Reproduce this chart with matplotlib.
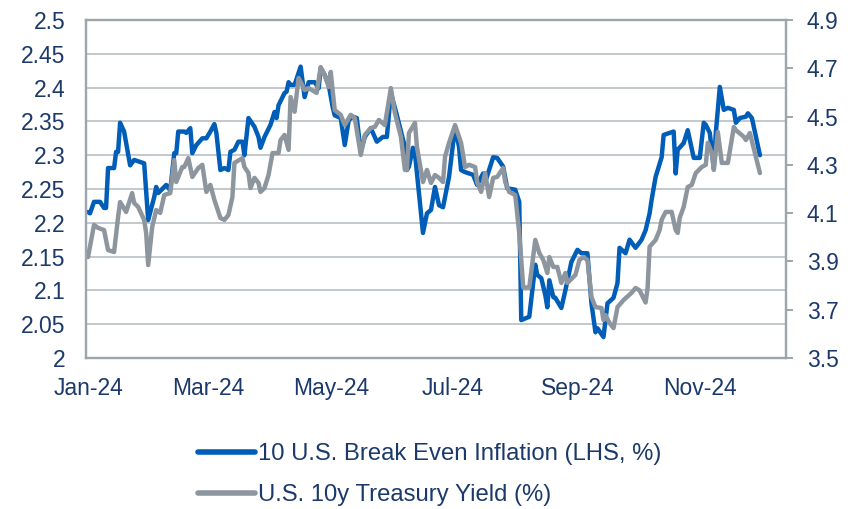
import matplotlib
matplotlib.use("Agg")
import matplotlib.pyplot as plt
import matplotlib.dates as mdates
from matplotlib.ticker import FixedLocator, FuncFormatter
import pandas as pd

plt.rcParams['font.family'] = ['Liberation Sans', 'DejaVu Sans']

# ---- data (days since 2024-01-01, value) ----
bei_days = [0, 1, 3, 6, 8, 9, 10, 13, 14, 15, 16, 18, 21, 23, 26, 28, 30, 33, 34, 35, 38, 39, 41, 43, 44, 45,
            48, 49, 51, 52, 54, 57, 59, 61, 63, 64, 66, 68, 70, 71, 73, 75, 77, 78, 80, 83, 85, 86, 88, 91,
            93, 94, 95, 98, 99, 100, 101, 103, 106, 108, 110, 113, 115, 116, 118, 120, 122, 123, 126, 128,
            130, 132, 134, 136, 138, 141, 144, 147, 149, 151, 154, 158, 159, 160, 162, 163, 165, 167, 169,
            171, 173, 175, 177, 180, 181, 183, 185, 186, 188, 192, 194, 197, 198, 202, 204, 207, 209, 213,
            215, 216, 220, 223, 224, 226, 228, 229, 230, 232, 233, 236, 238, 241, 244, 246, 249, 251, 253,
            254, 257, 259, 262, 264, 265, 268, 270, 273, 276, 278, 280, 281, 283, 286, 287, 292, 293, 294,
            297, 299, 302, 305, 307, 308, 310, 312, 313, 315, 317, 319, 322, 323, 325, 328, 329, 331, 335]
bei_vals = [2.216, 2.214, 2.231, 2.231, 2.222, 2.222, 2.281, 2.281, 2.305, 2.305, 2.348, 2.335, 2.285, 2.293,
            2.290, 2.288, 2.204, 2.238, 2.253, 2.244, 2.253, 2.256, 2.248, 2.303, 2.303, 2.335, 2.335, 2.333,
            2.340, 2.303, 2.315, 2.325, 2.325, 2.335, 2.346, 2.333, 2.278, 2.281, 2.278, 2.305, 2.308, 2.320,
            2.320, 2.300, 2.355, 2.342, 2.327, 2.311, 2.327, 2.345, 2.364, 2.355, 2.374, 2.392, 2.394, 2.408,
            2.404, 2.404, 2.431, 2.386, 2.408, 2.408, 2.399, 2.429, 2.419, 2.404, 2.371, 2.359, 2.355, 2.315,
            2.352, 2.357, 2.355, 2.305, 2.327, 2.340, 2.320, 2.327, 2.327, 2.392, 2.359, 2.312, 2.278, 2.283,
            2.311, 2.303, 2.244, 2.185, 2.214, 2.219, 2.253, 2.226, 2.223, 2.268, 2.293, 2.342, 2.312, 2.278,
            2.275, 2.271, 2.256, 2.273, 2.260, 2.297, 2.296, 2.283, 2.251, 2.249, 2.231, 2.056, 2.061, 2.138,
            2.123, 2.118, 2.093, 2.075, 2.115, 2.090, 2.089, 2.074, 2.100, 2.142, 2.160, 2.155, 2.155, 2.081,
            2.038, 2.044, 2.031, 2.081, 2.089, 2.111, 2.163, 2.155, 2.175, 2.163, 2.175, 2.189, 2.214, 2.234,
            2.268, 2.297, 2.330, 2.335, 2.273, 2.308, 2.318, 2.337, 2.296, 2.296, 2.348, 2.345, 2.333, 2.281,
            2.333, 2.401, 2.367, 2.370, 2.367, 2.348, 2.355, 2.357, 2.362, 2.355, 2.300]

ust_days = [0, 3, 5, 8, 10, 13, 15, 16, 19, 22, 23, 25, 28, 29, 30, 32, 34, 36, 38, 41, 43, 44, 47, 48, 50,
            52, 55, 57, 59, 61, 63, 66, 68, 70, 72, 73, 77, 78, 80, 81, 83, 85, 86, 88, 90, 92, 95, 96, 98,
            100, 101, 103, 105, 108, 110, 114, 116, 118, 120, 121, 123, 126, 128, 131, 133, 136, 138, 141,
            143, 145, 148, 151, 153, 156, 158, 159, 160, 163, 164, 167, 169, 171, 173, 175, 177, 178, 180,
            183, 186, 188, 190, 193, 194, 196, 198, 200, 202, 204, 207, 208, 210, 213, 215, 217, 220, 223,
            225, 227, 229, 230, 232, 234, 236, 238, 239, 243, 245, 247, 249, 251, 253, 256, 257, 258, 260,
            262, 264, 267, 271, 273, 275, 278, 279, 280, 283, 285, 286, 288, 291, 293, 294, 295, 297, 299,
            301, 303, 306, 308, 309, 311, 312, 314, 316, 319, 322, 323, 327, 328, 330, 335]
ust_vals = [3.918, 4.051, 4.039, 4.030, 3.947, 3.939, 4.084, 4.146, 4.105, 4.183, 4.142, 4.126, 4.072, 4.018,
            3.885, 4.043, 4.113, 4.101, 4.175, 4.183, 4.320, 4.229, 4.291, 4.291, 4.328, 4.250, 4.287, 4.300,
            4.188, 4.217, 4.155, 4.080, 4.072, 4.092, 4.167, 4.308, 4.328, 4.291, 4.266, 4.204, 4.246, 4.225,
            4.188, 4.204, 4.258, 4.349, 4.349, 4.403, 4.424, 4.362, 4.581, 4.520, 4.660, 4.610, 4.618, 4.598,
            4.705, 4.672, 4.623, 4.685, 4.527, 4.507, 4.465, 4.507, 4.494, 4.341, 4.424, 4.453, 4.457, 4.486,
            4.465, 4.618, 4.515, 4.416, 4.279, 4.279, 4.432, 4.474, 4.374, 4.229, 4.279, 4.225, 4.258, 4.246,
            4.229, 4.333, 4.391, 4.465, 4.391, 4.291, 4.300, 4.291, 4.229, 4.188, 4.266, 4.167, 4.246, 4.250,
            4.287, 4.229, 4.188, 4.175, 4.018, 3.792, 3.792, 3.989, 3.935, 3.906, 3.852, 3.918, 3.877, 3.877,
            3.811, 3.852, 3.811, 3.844, 3.906, 3.918, 3.906, 3.753, 3.711, 3.707, 3.657, 3.678, 3.645, 3.624,
            3.711, 3.740, 3.770, 3.790, 3.780, 3.730, 3.790, 3.961, 3.989, 4.030, 4.072, 4.105, 4.105, 4.030,
            4.018, 4.080, 4.126, 4.208, 4.217, 4.266, 4.291, 4.300, 4.391, 4.349, 4.279, 4.436, 4.308, 4.308,
            4.457, 4.444, 4.416, 4.403, 4.432, 4.266]

left_ticks = [2.0, 2.05, 2.1, 2.15, 2.2, 2.25, 2.3, 2.35, 2.4, 2.45, 2.5]
right_ticks = [3.5, 3.7, 3.9, 4.1, 4.3, 4.5, 4.7, 4.9]
x_tick_dates = ['2024-01-01', '2024-03-01', '2024-05-01', '2024-07-01', '2024-09-01', '2024-11-01']
series_names = ['10 U.S. Break Even Inflation (LHS, %)', 'U.S. 10y Treasury Yield (%)']

# ---- styling ----
BLUE = '#005EB8'
GREY = '#8D969E'
TXT = '#1B3A6B'
SPINE = '#9DA5AD'
GRID = '#C3C8CD'
FS = 16.5

base = pd.Timestamp('2024-01-01')
bei_dates = base + pd.to_timedelta(bei_days, unit='D')
ust_dates = base + pd.to_timedelta(ust_days, unit='D')

fig = plt.figure(figsize=(8.55, 5.09), dpi=100)
W, H = 855, 509
ax = fig.add_axes([86 / W, 1 - 358 / H, (786 - 86) / W, (358 - 20) / H])
ax2 = ax.twinx()

l1, = ax.plot(bei_dates, bei_vals, color=BLUE, lw=3.2, solid_joinstyle='round', solid_capstyle='round')
l2, = ax2.plot(ust_dates, ust_vals, color=GREY, lw=3.2, solid_joinstyle='round', solid_capstyle='round')

ax.set_ylim(2.0, 2.5)
ax.yaxis.set_major_locator(FixedLocator(left_ticks))
ax.yaxis.set_major_formatter(FuncFormatter(lambda v, p: f'{v:g}'))
ax2.set_ylim(3.5, 4.9)
ax2.yaxis.set_major_locator(FixedLocator(right_ticks))
ax2.yaxis.set_major_formatter(FuncFormatter(lambda v, p: f'{v:.1f}'))

ax.set_xlim(base - pd.Timedelta(days=1), pd.Timestamp('2024-12-14'))
ax.xaxis.set_major_locator(FixedLocator([mdates.date2num(pd.Timestamp(d)) for d in x_tick_dates]))
ax.xaxis.set_major_formatter(mdates.DateFormatter('%b-%y'))

ax.grid(axis='y', color=GRID, lw=1.4)
ax.set_axisbelow(True)
ax2.grid(False)

for a in (ax, ax2):
    for s in a.spines.values():
        s.set_color(SPINE)
        s.set_linewidth(1.6)

ax.tick_params(axis='y', length=0, labelsize=FS, labelcolor=TXT, pad=15)
ax.tick_params(axis='x', length=0, labelsize=FS, labelcolor=TXT, pad=14)
ax2.tick_params(axis='y', length=5, width=1.4, color=SPINE, labelsize=FS, labelcolor=TXT, pad=10)

leg = fig.legend([l1, l2], series_names, loc='upper left', bbox_to_anchor=(198 / W, 1 - 443 / H),
                 frameon=False, fontsize=17.2, handlelength=2.4, handletextpad=0.12,
                 labelspacing=0.8, borderaxespad=0, borderpad=0)
for t in leg.get_texts():
    t.set_color(TXT)
for ln in leg.get_lines():
    ln.set_linewidth(4)
    ln.set_solid_capstyle('round')

fig.savefig('out.png', dpi=100)
